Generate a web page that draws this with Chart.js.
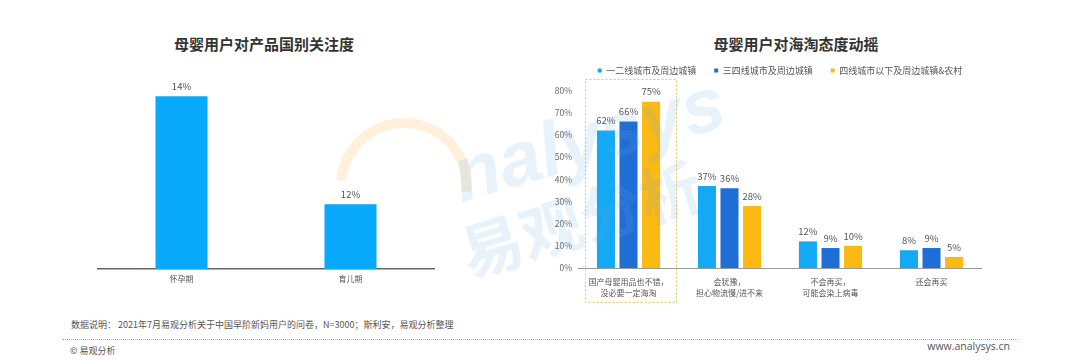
<!DOCTYPE html>
<html>
<head>
<meta charset="utf-8">
<script src="https://cdn.jsdelivr.net/npm/chart.js@4"></script>
<style>
  body { margin: 0; background: #fff; font-family: "Noto Sans CJK SC", "Noto Sans", sans-serif; }
  #page { position: relative; width: 1080px; height: 360px; overflow: hidden; background: #fff; }
  .box { position: absolute; }
  .title { position: absolute; top: 33px; font-size: 15px; font-weight: bold; color: #333; transform: translateX(-50%); white-space: nowrap; }
  .note { position: absolute; font-size: 9px; color: #555; white-space: nowrap; }
  #dots { position: absolute; left: 62px; top: 339px; width: 956px; border-top: 1px dotted #aaa; }
  .wm { position: absolute; white-space: nowrap; pointer-events: none; font-weight: bold; }
</style>
</head>
<body>
<div id="page">
  <div class="title" style="left:264px">母婴用户对产品国别关注度</div>
  <div class="title" style="left:796px">母婴用户对海淘态度动摇</div>

  <div class="box" style="left:97px; top:60px; width:338px; height:235px"><canvas id="stageChart"></canvas></div>
  <div class="box" style="left:540px; top:48px; width:442px; height:260px"><canvas id="attitudeChart"></canvas></div>

  <!-- watermark -->
  <div class="wm" style="left:336px; top:118px; width:116px; height:116px; border-radius:50%; border:10px solid rgba(250,195,110,0.25); border-right-color:transparent; border-bottom-color:transparent; transform:rotate(50deg);"></div>
  <div class="wm" style="left:588px; top:138px; font-family:'Liberation Sans', sans-serif; font-style:italic; font-size:76px; color:rgba(100,170,230,0.15); transform:translate(-50%,-50%) rotate(-16deg);">nalysys</div>
  <div class="wm" style="left:580px; top:216px; font-family:'Noto Sans CJK SC', sans-serif; font-size:62px; color:rgba(100,170,230,0.15); transform:translate(-50%,-50%) rotate(-17deg);">易观分析</div>

  <div class="note" style="left:71px; top:318px">数据说明： 2021年7月易观分析关于中国早阶新妈用户的问卷，N=3000；斯利安，易观分析整理</div>
  <div id="dots"></div>
  <div class="note" style="left:70px; top:344px">© 易观分析</div>
  <div class="note" style="right:70px; top:339px; font-size:10.5px; font-family:'Open Sans', sans-serif">www.analysys.cn</div>
</div>

<script>
// left chart
const stageLabels = ['怀孕期', '育儿期'];
const stageValues = [14, 12];

// right chart
const attitudeLabels = [
    ['国产母婴用品也不错，', '没必要一定海淘'],
    ['会犹豫，', '担心物流慢/进不来'],
    ['不会再买，', '可能会染上病毒'],
    '还会再买'
];
const tier12Values = [62, 37, 12, 8];
const tier34Values = [66, 36, 9, 9];
const tierLowValues = [75, 28, 10, 5];
const seriesNames = ['一二线城市及周边城镇', '三四线城市及周边城镇', '四线城市以下及周边城镇&农村'];
const yTicks = [0, 10, 20, 30, 40, 50, 60, 70, 80];

const FONT = '"Noto Sans CJK SC", "Noto Sans", sans-serif';

// value labels above bars
const valueLabels = {
    id: 'valueLabels',
    afterDatasetsDraw(chart) {
        const ctx = chart.ctx;
        ctx.save();
        ctx.font = '9.5px ' + FONT;
        ctx.fillStyle = '#555';
        ctx.textAlign = 'center';
        ctx.textBaseline = 'bottom';
        chart.data.datasets.forEach((ds, i) => {
            chart.getDatasetMeta(i).data.forEach((bar, j) => {
                ctx.fillText(ds.data[j] + '%', bar.x, bar.y - 5);
            });
        });
        ctx.restore();
    }
};

// dashed highlight around first group
const highlight = {
    id: 'highlight',
    afterDraw(chart) {
        const x = chart.scales.x, y = chart.scales.y;
        const half = (x.getPixelForValue(1) - x.getPixelForValue(0)) * 0.45;
        const cx = x.getPixelForValue(0) + 2;
        const top = y.getPixelForValue(80) - 11.5;
        const bottom = y.getPixelForValue(0) + 34;
        const ctx = chart.ctx;
        ctx.save();
        ctx.strokeStyle = '#E9C55A';
        ctx.lineWidth = 1;
        ctx.setLineDash([2, 2]);
        ctx.strokeRect(Math.round(cx - half) + 0.5, Math.round(top) + 0.5, Math.round(half * 2), Math.round(bottom - top));
        ctx.restore();
    }
};

Chart.defaults.font.family = FONT;
Chart.defaults.animation = false;

new Chart(document.getElementById('stageChart'), {
    type: 'bar',
    data: {
        labels: stageLabels,
        datasets: [{
            data: stageValues,
            backgroundColor: '#08A9FA',
            categoryPercentage: 1,
            barPercentage: 0.308
        }]
    },
    options: {
        responsive: true,
        maintainAspectRatio: false,
        layout: { padding: 0 },
        plugins: { legend: { display: false }, tooltip: { enabled: false } },
        scales: {
            x: {
                grid: { display: false, drawTicks: false },
                border: { color: '#666', width: 1.5 },
                ticks: { color: '#555', font: { size: 8 }, padding: 5 },
                afterFit: s => { s.height = 26; }
            },
            y: { display: false, min: 10.8, max: 14.67 }
        }
    },
    plugins: [valueLabels]
});

new Chart(document.getElementById('attitudeChart'), {
    type: 'bar',
    data: {
        labels: attitudeLabels,
        datasets: [
            { label: seriesNames[0], data: tier12Values, backgroundColor: '#14A9F4' },
            { label: seriesNames[1], data: tier34Values, backgroundColor: '#1F6ED6' },
            { label: seriesNames[2], data: tierLowValues, backgroundColor: '#FBB914' }
        ]
    },
    options: {
        responsive: true,
        maintainAspectRatio: false,
        layout: { padding: 0 },
        datasets: { bar: { categoryPercentage: 0.67, barPercentage: 0.8 } },
        plugins: {
            tooltip: { enabled: false },
            legend: {
                position: 'top',
                fullSize: false,
                labels: {
                    boxWidth: 4,
                    boxHeight: 4,
                    padding: 18,
                    color: '#555',
                    font: { size: 9 }
                }
            }
        },
        scales: {
            x: {
                grid: { display: false, drawTicks: false },
                border: { color: '#999', width: 1 },
                ticks: { color: '#555', font: { size: 8, lineHeight: 1.375 }, padding: 8, maxRotation: 0, autoSkip: false },
                afterFit: s => { s.height = 40; }
            },
            y: {
                min: 0,
                max: 82.5,
                grid: { display: false, drawTicks: false },
                border: { display: false },
                afterBuildTicks: s => { s.ticks = yTicks.map(v => ({ value: v })); },
                ticks: { color: '#666', font: { size: 8.5 }, padding: 6, callback: v => v + '%' },
                afterFit: s => { s.width = 38; }
            }
        }
    },
    plugins: [valueLabels, highlight]
});
</script>
</body>
</html>
